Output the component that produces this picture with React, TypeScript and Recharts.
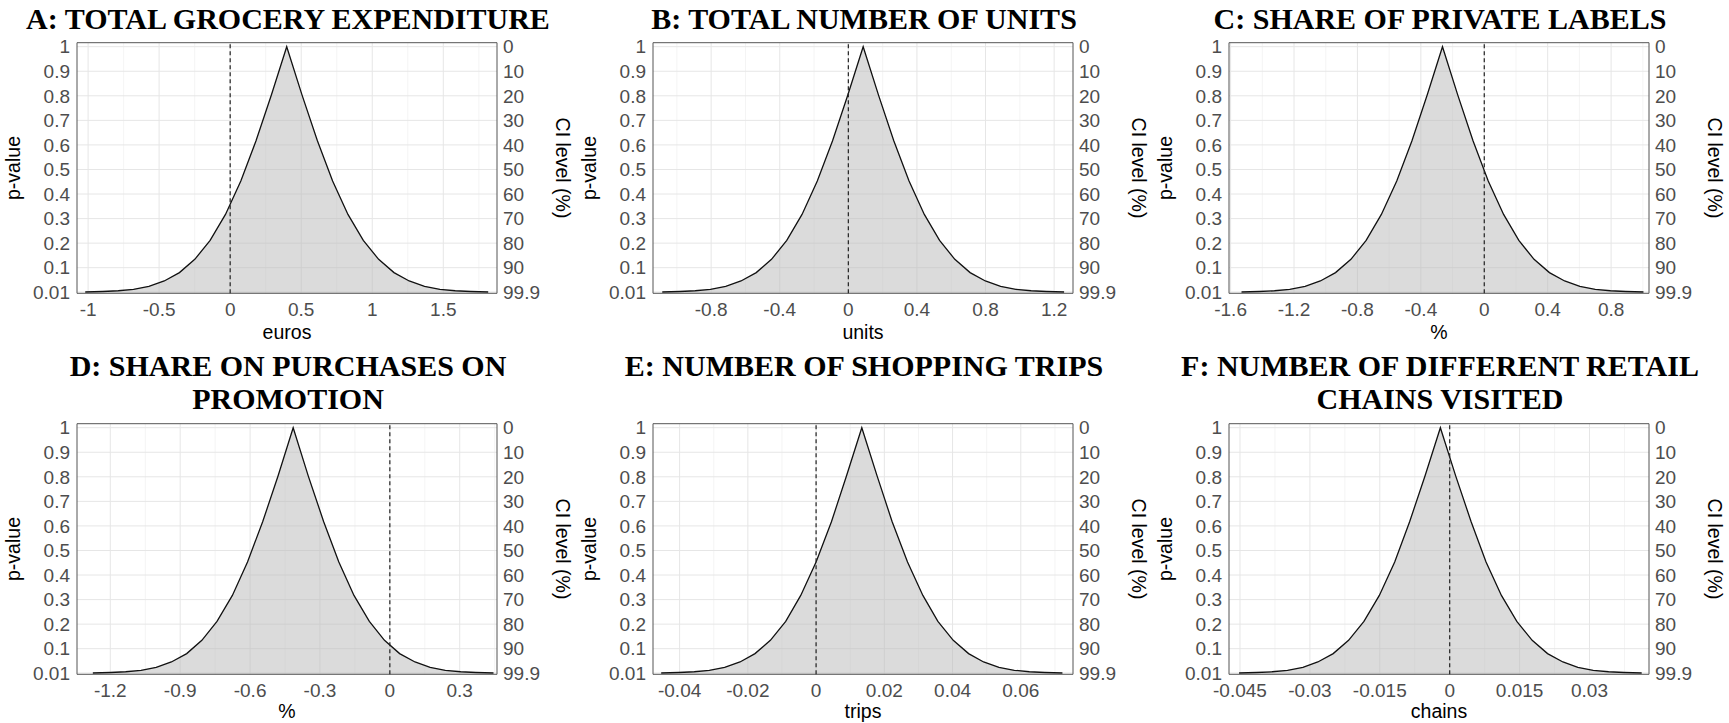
import { Area, CartesianGrid, ComposedChart, Line, ReferenceArea, ReferenceLine, XAxis, YAxis } from "recharts"

// p-value axis (left) and matching CI level axis (right)
const pTicks = [0.001, 0.1, 0.2, 0.3, 0.4, 0.5, 0.6, 0.7, 0.8, 0.9, 1]
const pTickLabels = ["0.01", "0.1", "0.2", "0.3", "0.4", "0.5", "0.6", "0.7", "0.8", "0.9", "1"]
const ciTickLabels = ["99.9", "90", "80", "70", "60", "50", "40", "30", "20", "10", "0"]
const pDomain = [-0.0043, 1.0163]

// A: total grocery expenditure
const aX = [-1.02, -0.896, -0.788, -0.68, -0.572, -0.464, -0.357, -0.249, -0.141, -0.033, 0.075, 0.182, 0.29, 0.398, 0.506, 0.614, 0.721, 0.829, 0.937, 1.045, 1.153, 1.26, 1.368, 1.476, 1.584, 1.692, 1.816]
const aP = [0.001, 0.003, 0.006, 0.012, 0.024, 0.046, 0.08, 0.134, 0.211, 0.317, 0.453, 0.617, 0.803, 1, 0.803, 0.617, 0.453, 0.317, 0.211, 0.134, 0.08, 0.046, 0.024, 0.012, 0.006, 0.003, 0.001]
const aTicks = [-1, -0.5, 0, 0.5, 1, 1.5]
const aMinor = [-0.75, -0.25, 0.25, 0.75, 1.25, 1.75]
const aDomain = [-1.078, 1.878]

// B: total number of units
const bX = [-1.085, -0.982, -0.893, -0.804, -0.715, -0.626, -0.537, -0.448, -0.359, -0.27, -0.181, -0.092, -0.003, 0.0865, 0.176, 0.265, 0.354, 0.443, 0.532, 0.621, 0.71, 0.799, 0.888, 0.977, 1.066, 1.155, 1.258]
const bP = [0.001, 0.003, 0.006, 0.012, 0.024, 0.046, 0.08, 0.134, 0.211, 0.317, 0.453, 0.617, 0.803, 1, 0.803, 0.617, 0.453, 0.317, 0.211, 0.134, 0.08, 0.046, 0.024, 0.012, 0.006, 0.003, 0.001]
const bTicks = [-0.8, -0.4, 0, 0.4, 0.8, 1.2]
const bMinor = [-1, -0.6, -0.2, 0.2, 0.6, 1]
const bDomain = [-1.139, 1.31]

// C: share of private labels
const cX = [-1.531, -1.419, -1.323, -1.227, -1.13, -1.034, -0.938, -0.841, -0.745, -0.649, -0.552, -0.456, -0.36, -0.2635, -0.167, -0.071, 0.025, 0.122, 0.218, 0.314, 0.411, 0.507, 0.603, 0.7, 0.796, 0.892, 1.004]
const cP = [0.001, 0.003, 0.006, 0.012, 0.024, 0.046, 0.08, 0.134, 0.211, 0.317, 0.453, 0.617, 0.803, 1, 0.803, 0.617, 0.453, 0.317, 0.211, 0.134, 0.08, 0.046, 0.024, 0.012, 0.006, 0.003, 0.001]
const cTicks = [-1.6, -1.2, -0.8, -0.4, 0, 0.4, 0.8]
const cMinor = [-1.4, -1, -0.6, -0.2, 0.2, 0.6, 1]
const cDomain = [-1.61, 1.039]

// D: share on purchases on promotion
const dX = [-1.275, -1.199, -1.134, -1.068, -1.003, -0.938, -0.872, -0.807, -0.742, -0.676, -0.611, -0.546, -0.48, -0.415, -0.35, -0.284, -0.219, -0.154, -0.088, -0.023, 0.042, 0.108, 0.173, 0.238, 0.304, 0.369, 0.445]
const dP = [0.001, 0.003, 0.006, 0.012, 0.024, 0.046, 0.08, 0.134, 0.211, 0.317, 0.453, 0.617, 0.803, 1, 0.803, 0.617, 0.453, 0.317, 0.211, 0.134, 0.08, 0.046, 0.024, 0.012, 0.006, 0.003, 0.001]
const dTicks = [-1.2, -0.9, -0.6, -0.3, 0, 0.3]
const dMinor = [-1.05, -0.75, -0.45, -0.15, 0.15, 0.45]
const dDomain = [-1.343, 0.46]

// E: number of shopping trips
const eX = [-0.0454, -0.0402, -0.0357, -0.0313, -0.0268, -0.0223, -0.0179, -0.0134, -0.0089, -0.0045, 0, 0.0045, 0.0089, 0.0134, 0.0179, 0.0223, 0.0268, 0.0313, 0.0357, 0.0402, 0.0447, 0.0491, 0.0536, 0.0581, 0.0625, 0.067, 0.0722]
const eP = [0.001, 0.003, 0.006, 0.012, 0.024, 0.046, 0.08, 0.134, 0.211, 0.317, 0.453, 0.617, 0.803, 1, 0.803, 0.617, 0.453, 0.317, 0.211, 0.134, 0.08, 0.046, 0.024, 0.012, 0.006, 0.003, 0.001]
const eTicks = [-0.04, -0.02, 0, 0.02, 0.04, 0.06]
const eMinor = [-0.03, -0.01, 0.01, 0.03, 0.05, 0.07]
const eDomain = [-0.0478, 0.0753]

// F: number of different retail chains visited
const fX = [-0.0452, -0.0414, -0.0381, -0.0348, -0.0315, -0.0283, -0.025, -0.0217, -0.0184, -0.0151, -0.0118, -0.0086, -0.0053, -0.002, 0.0013, 0.0046, 0.0078, 0.0111, 0.0144, 0.0177, 0.021, 0.0243, 0.0275, 0.0308, 0.0341, 0.0374, 0.0412]
const fP = [0.001, 0.003, 0.006, 0.012, 0.024, 0.046, 0.08, 0.134, 0.211, 0.317, 0.453, 0.617, 0.803, 1, 0.803, 0.617, 0.453, 0.317, 0.211, 0.134, 0.08, 0.046, 0.024, 0.012, 0.006, 0.003, 0.001]
const fTicks = [-0.045, -0.03, -0.015, 0, 0.015, 0.03]
const fMinor = [-0.0375, -0.0225, -0.0075, 0.0075, 0.0225, 0.0375]
const fDomain = [-0.04736, 0.04277]

const panels = [
  { title: ["A: TOTAL GROCERY EXPENDITURE"], unit: "euros", xs: aX, ps: aP, ticks: aTicks, minor: aMinor, domain: aDomain },
  { title: ["B: TOTAL NUMBER OF UNITS"], unit: "units", xs: bX, ps: bP, ticks: bTicks, minor: bMinor, domain: bDomain },
  { title: ["C: SHARE OF PRIVATE LABELS"], unit: "%", xs: cX, ps: cP, ticks: cTicks, minor: cMinor, domain: cDomain },
  { title: ["D: SHARE ON PURCHASES ON", "PROMOTION"], unit: "%", xs: dX, ps: dP, ticks: dTicks, minor: dMinor, domain: dDomain },
  { title: ["E: NUMBER OF SHOPPING TRIPS"], unit: "trips", xs: eX, ps: eP, ticks: eTicks, minor: eMinor, domain: eDomain },
  { title: ["F: NUMBER OF DIFFERENT RETAIL", "CHAINS VISITED"], unit: "chains", xs: fX, ps: fP, ticks: fTicks, minor: fMinor, domain: fDomain },
]

const SANS = "'Liberation Sans', Arial, sans-serif"
const SERIF = "'Liberation Serif', 'Times New Roman', serif"
const PANEL_W = 576
const PLOT_L = 77
const PLOT_R = 497
const AXIS_L_W = 62
const AXIS_R_W = 50
const XAXIS_H = 30

const rows = [
  { top: 0, height: 362, plotTop: 42.7, plotBottom: 293.3, titleY: 19, unitY: 331.7 },
  { top: 362, height: 361, plotTop: 423.7, plotBottom: 674.3, titleY: 366, unitY: 710.5 },
]

const tickStyle = { fontSize: 19, fill: "#4d4d4d", fontFamily: SANS }

function pLabel(v: number) {
  const i = pTicks.indexOf(v)
  return i >= 0 ? pTickLabels[i] : String(v)
}

function ciLabel(v: number) {
  const i = pTicks.indexOf(v)
  return i >= 0 ? ciTickLabels[i] : ""
}

function Panel({ index }: { index: number }) {
  const cfg = panels[index]
  const row = rows[Math.floor(index / 3)]
  const left = (index % 3) * PANEL_W
  const data = cfg.xs.map((x, i) => ({ x, p: cfg.ps[i] }))
  const plotMid = (PLOT_L + PLOT_R) / 2
  const plotMidY = (row.plotTop + row.plotBottom) / 2 - row.top

  return (
    <div style={{ position: "absolute", left, top: row.top, width: PANEL_W, height: row.height }}>
      <ComposedChart
        width={PANEL_W}
        height={row.height}
        data={data}
        margin={{
          top: row.plotTop - row.top,
          bottom: row.top + row.height - row.plotBottom - XAXIS_H,
          left: PLOT_L - AXIS_L_W,
          right: PANEL_W - PLOT_R - AXIS_R_W,
        }}
      >
        <CartesianGrid stroke="#f1f1f1" strokeWidth={0.8} horizontal={false} verticalValues={cfg.minor} />
        <CartesianGrid stroke="#e6e6e6" horizontalValues={pTicks} verticalValues={cfg.ticks} />
        <XAxis
          type="number"
          dataKey="x"
          domain={cfg.domain}
          ticks={cfg.ticks}
          interval={0}
          allowDataOverflow
          height={XAXIS_H}
          tickLine={false}
          axisLine={false}
          tickSize={0}
          tickMargin={9}
          tick={tickStyle}
          tickFormatter={(v: number) => String(v)}
        />
        <YAxis
          type="number"
          domain={pDomain}
          ticks={pTicks}
          interval={0}
          allowDataOverflow
          width={AXIS_L_W}
          tickLine={false}
          axisLine={false}
          tickSize={0}
          tickMargin={7}
          tick={tickStyle}
          tickFormatter={pLabel}
        />
        <YAxis
          yAxisId="ci"
          orientation="right"
          type="number"
          domain={pDomain}
          ticks={pTicks}
          interval={0}
          allowDataOverflow
          width={AXIS_R_W}
          tickLine={false}
          axisLine={false}
          tickSize={0}
          tickMargin={6}
          tick={tickStyle}
          tickFormatter={ciLabel}
        />
        <Area
          type="linear"
          dataKey="p"
          stroke="#111"
          strokeWidth={1.3}
          fill="#b8b8b8"
          fillOpacity={0.5}
          baseValue="dataMin"
          dot={false}
          activeDot={false}
          isAnimationActive={false}
        />
        <Line yAxisId="ci" dataKey="p" stroke="none" dot={false} activeDot={false} isAnimationActive={false} />
        <ReferenceLine x={0} stroke="#222" strokeDasharray="4 3" strokeWidth={1.2} />
        <ReferenceArea
          x1={cfg.domain[0]}
          x2={cfg.domain[1]}
          y1={pDomain[0]}
          y2={pDomain[1]}
          fill="none"
          stroke="#555"
          strokeWidth={1}
          ifOverflow="visible"
        />
      </ComposedChart>

      {cfg.title.map((line, i) => (
        <div
          key={i}
          style={{
            position: "absolute",
            left: -20,
            width: PANEL_W + 40,
            top: row.titleY - row.top + i * 33 - 18,
            height: 36,
            lineHeight: "36px",
            textAlign: "center",
            fontFamily: SERIF,
            fontWeight: "bold",
            fontSize: 30,
            color: "#000",
            whiteSpace: "nowrap",
          }}
        >
          {line}
        </div>
      ))}

      <div
        style={{
          position: "absolute",
          left: plotMid - 100,
          width: 200,
          top: row.unitY - row.top - 11,
          height: 22,
          lineHeight: "22px",
          textAlign: "center",
          fontFamily: SANS,
          fontSize: 19.5,
          color: "#000",
        }}
      >
        {cfg.unit}
      </div>

      <div
        style={{
          position: "absolute",
          left: 13 - 60,
          top: plotMidY - 12,
          width: 120,
          height: 24,
          lineHeight: "24px",
          textAlign: "center",
          fontFamily: SANS,
          fontSize: 19.5,
          color: "#000",
          transform: "rotate(-90deg)",
        }}
      >
        p-value
      </div>

      <div
        style={{
          position: "absolute",
          left: 563 - 70,
          top: plotMidY - 12,
          width: 140,
          height: 24,
          lineHeight: "24px",
          textAlign: "center",
          fontFamily: SANS,
          fontSize: 19.5,
          color: "#000",
          transform: "rotate(90deg)",
        }}
      >
        CI level (%)
      </div>
    </div>
  )
}

export default function App() {
  return (
    <div style={{ position: "absolute", left: 0, top: 0, width: 1729, height: 723, background: "#fff", overflow: "hidden" }}>
      {panels.map((_, i) => (
        <Panel key={i} index={i} />
      ))}
    </div>
  )
}
